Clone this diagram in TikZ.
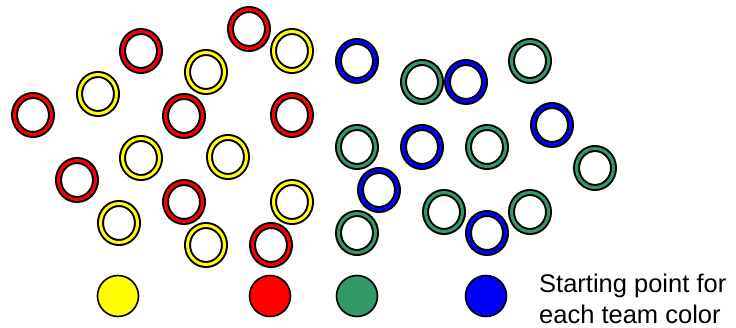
\documentclass[tikz,border=0pt]{standalone}
\usepackage{fontspec}
\setmainfont{Liberation Sans}
\usepackage{xcolor}
\usepackage{tikz}
\usetikzlibrary{positioning}
\definecolor{teamRed}{RGB}{255,0,0}
\definecolor{teamYellow}{RGB}{255,255,0}
\definecolor{teamGreen}{RGB}{51,153,102}
\definecolor{teamBlue}{RGB}{0,0,255}

\begin{document}
\begin{tikzpicture}[x=1pt, y=-1pt,
  ring/.style={draw=black, line width=2pt, double=#1, double distance=3pt},
  startdisc/.style={draw=black, line width=1.6pt, fill=#1}]
\useasboundingbox (0,0) rectangle (736,328);
% red team
\draw[ring=teamRed] (249,29) ellipse [x radius=18.5, y radius=19.5];
\draw[ring=teamRed] (141,51) ellipse [x radius=18.5, y radius=19.5];
\draw[ring=teamRed] (33,115) ellipse [x radius=18.5, y radius=19.5];
\draw[ring=teamRed] (184,116) ellipse [x radius=18.5, y radius=19.5];
\draw[ring=teamRed] (292,115) ellipse [x radius=18.5, y radius=19.5];
\draw[ring=teamRed] (77,180) ellipse [x radius=18.5, y radius=19.5];
\draw[ring=teamRed] (184,202) ellipse [x radius=18.5, y radius=19.5];
\draw[ring=teamRed] (271,245) ellipse [x radius=18.5, y radius=19.5];
% yellow team
\draw[ring=teamYellow] (292,51) ellipse [x radius=18.5, y radius=19.5];
\draw[ring=teamYellow] (206,72) ellipse [x radius=18.5, y radius=19.5];
\draw[ring=teamYellow] (98,94) ellipse [x radius=18.5, y radius=19.5];
\draw[ring=teamYellow] (141,158) ellipse [x radius=18.5, y radius=19.5];
\draw[ring=teamYellow] (228,157) ellipse [x radius=18.5, y radius=19.5];
\draw[ring=teamYellow] (119,223) ellipse [x radius=18.5, y radius=19.5];
\draw[ring=teamYellow] (292,202) ellipse [x radius=18.5, y radius=19.5];
\draw[ring=teamYellow] (206,245) ellipse [x radius=18.5, y radius=19.5];
% green team
\draw[ring=teamGreen] (422,82) ellipse [x radius=18.5, y radius=19.5];
\draw[ring=teamGreen] (530,61) ellipse [x radius=18.5, y radius=19.5];
\draw[ring=teamGreen] (357,147) ellipse [x radius=18.5, y radius=19.5];
\draw[ring=teamGreen] (487,147) ellipse [x radius=18.5, y radius=19.5];
\draw[ring=teamGreen] (595,168) ellipse [x radius=18.5, y radius=19.5];
\draw[ring=teamGreen] (444,212) ellipse [x radius=18.5, y radius=19.5];
\draw[ring=teamGreen] (530,212) ellipse [x radius=18.5, y radius=19.5];
\draw[ring=teamGreen] (357,233) ellipse [x radius=18.5, y radius=19.5];
% blue team
\draw[ring=teamBlue] (357,61) ellipse [x radius=18.5, y radius=19.5];
\draw[ring=teamBlue] (466,82) ellipse [x radius=18.5, y radius=19.5];
\draw[ring=teamBlue] (552,125) ellipse [x radius=18.5, y radius=19.5];
\draw[ring=teamBlue] (422,147) ellipse [x radius=18.5, y radius=19.5];
\draw[ring=teamBlue] (379,190) ellipse [x radius=18.5, y radius=19.5];
\draw[ring=teamBlue] (487,233) ellipse [x radius=18.5, y radius=19.5];
% starting points
\draw[startdisc=teamYellow] (118,296) circle [radius=20.5];
\draw[startdisc=teamRed] (270,296) circle [radius=20.5];
\draw[startdisc=teamGreen] (357,296) circle [radius=20.5];
\draw[startdisc=teamBlue] (486,296) circle [radius=20.5];
\node[right, inner sep=0pt, align=left, font=\fontsize{25.5}{31}\selectfont]
  (legend) at (539,299) {Starting point for\\each team color};
\end{tikzpicture}
\end{document}
